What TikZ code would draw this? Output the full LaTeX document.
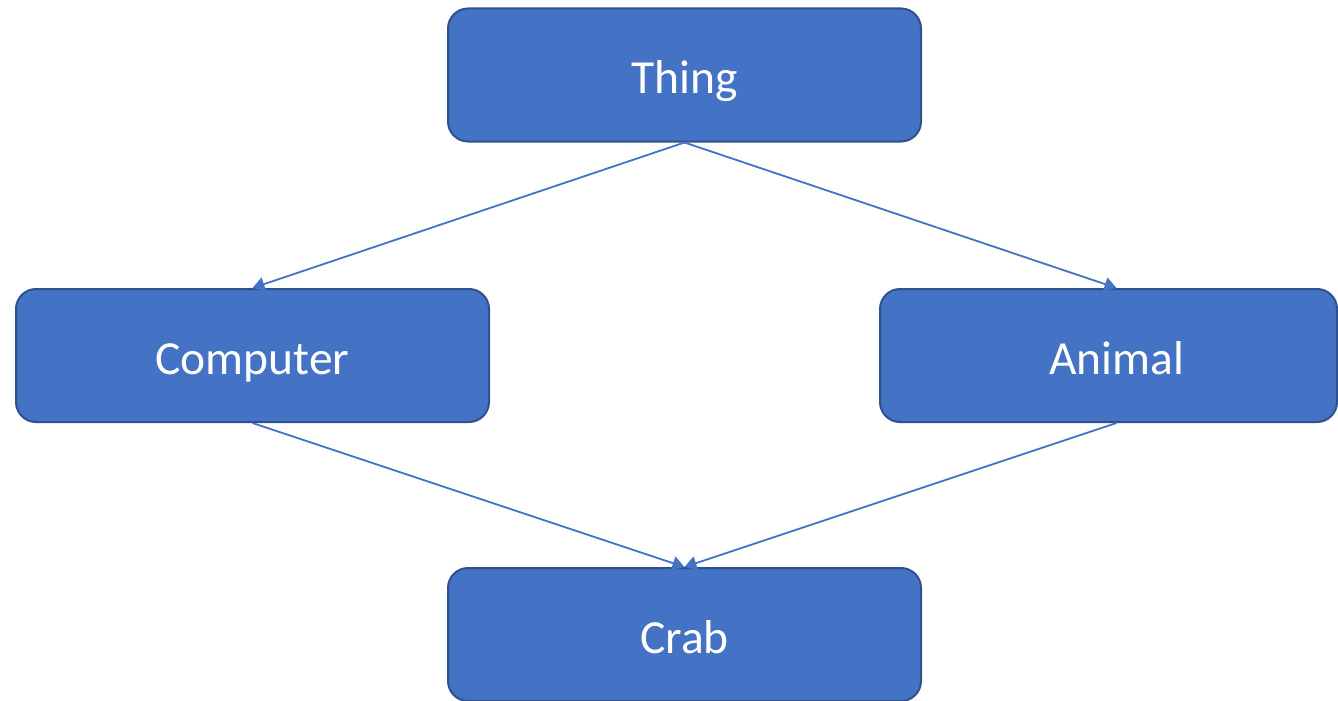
\documentclass[tikz,border=0pt]{standalone}
\usepackage{fontspec}
\setmainfont{Carlito}
\usetikzlibrary{arrows.meta}
\definecolor{boxfill}{HTML}{4472C4}
\definecolor{boxline}{HTML}{2F528F}
\begin{document}
\begin{tikzpicture}[x=1pt,y=-1pt,
  box/.style={draw=boxline, line width=2pt, fill=boxfill, rounded corners=20pt,
    minimum width=473pt, minimum height=133pt, inner sep=0pt,
    text=white, font=\fontsize{47.5}{56}\selectfont, text height=37pt, text depth=0pt},
  link/.style={draw=boxfill, line width=1.8pt, -{Triangle[length=12pt,width=14pt]}}]
  \useasboundingbox (0,0) rectangle (1338,701);
  \node[box] (thing) at (684.5,75) {Thing};
  \node[box] (computer) at (252.5,355.5) {Computer};
  \node[box, minimum width=457pt] (animal) at (1108.5,355.5) {\hspace*{16pt}Animal};
  \node[box] (crab) at (684.5,634.5) {Crab};
  \coordinate (animaltop) at ([xshift=8pt]animal.north);
  \coordinate (animalbottom) at ([xshift=8pt]animal.south);
  \draw[link] (thing.south) -- (computer.north);
  \draw[link] (thing.south) -- (animaltop);
  \draw[link] (computer.south) -- (crab.north);
  \draw[link] (animalbottom) -- (crab.north);
\end{tikzpicture}
\end{document}
